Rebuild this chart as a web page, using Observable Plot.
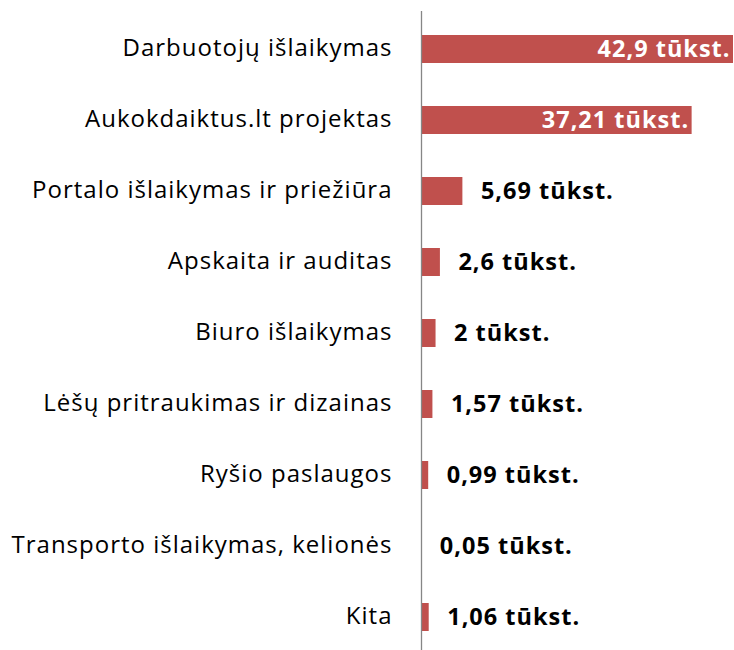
<!DOCTYPE html>
<html>
<head>
<meta charset="utf-8">
<script src="https://cdn.jsdelivr.net/npm/d3@7"></script>
<script src="https://cdn.jsdelivr.net/npm/@observablehq/plot@0.6"></script>
<style>
  body { margin: 0; background: #fff; overflow: hidden; }
  svg { overflow: hidden; }
</style>
</head>
<body>
<div id="chart"></div>
<script>
const categories = [
  "Darbuotojų išlaikymas",
  "Aukokdaiktus.lt projektas",
  "Portalo išlaikymas ir priežiūra",
  "Apskaita ir auditas",
  "Biuro išlaikymas",
  "Lėšų pritraukimas ir dizainas",
  "Ryšio paslaugos",
  "Transporto išlaikymas, kelionės",
  "Kita"
];
const values = [42.9, 37.21, 5.69, 2.6, 2, 1.57, 0.99, 0.05, 1.06];
const unit = "tūkst.";

const data = categories.map((c, i) => ({category: c, value: values[i]}));
const fmt = v => String(v).replace(".", ",") + " " + unit;
const big = d => d.value > 30;

const font = "'Open Sans', sans-serif";

const chart = Plot.plot({
  width: 734,
  height: 650,
  marginLeft: 421,
  marginRight: 1,
  marginTop: 11,
  marginBottom: -5,
  style: {fontFamily: font, background: "#fff", letterSpacing: "1px"},
  x: {domain: [0, 42.9], axis: null},
  y: {domain: categories, paddingInner: 0.6, paddingOuter: 0.3, axis: null},
  marks: [
    Plot.axisY({tickSize: 0, tickPadding: 29, fontSize: 24, fill: "#000", label: null, fontFamily: font, dy: -1}),
    Plot.barX(data, {x: "value", y: "category", fill: "#c0504d"}),
    Plot.ruleX([0], {stroke: "#868686", strokeWidth: 1.3}),
    Plot.text(data.filter(big), {x: "value", y: "category", text: d => fmt(d.value), textAnchor: "end", dx: -3, fill: "#fff", fontWeight: "bold", fontSize: 23.5}),
    Plot.text(data.filter(d => !big(d)), {x: "value", y: "category", text: d => fmt(d.value), textAnchor: "start", dx: 18, fill: "#000", fontWeight: "bold", fontSize: 23.5})
  ]
});
document.getElementById("chart").appendChild(chart);
</script>
</body>
</html>
